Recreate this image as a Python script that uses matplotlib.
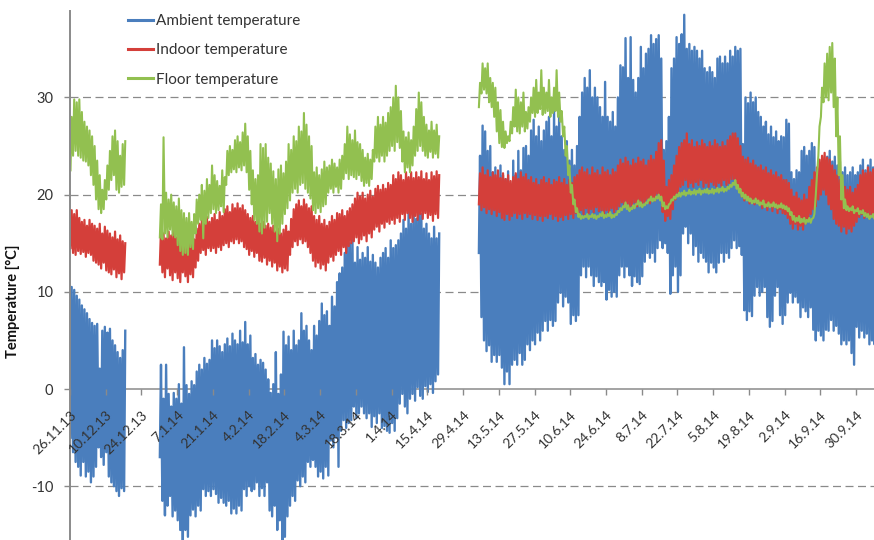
import numpy as np
import matplotlib.pyplot as plt

# days counted from 26.11.13; three logged periods with gaps in between
seg_start = [0, 35, 160]
seg_len = [22, 110, 156]

tick_days = list(range(0, 309, 14))
tick_labels = ["26.11.13", "10.12.13", "24.12.13", "7.1.14", "21.1.14", "4.2.14",
               "18.2.14", "4.3.14", "18.3.14", "1.4.14", "15.4.14", "29.4.14",
               "13.5.14", "27.5.14", "10.6.14", "24.6.14", "8.7.14", "22.7.14",
               "5.8.14", "19.8.14", "2.9.14", "16.9.14", "30.9.14"]

# daily max / min
ambient_max = [
    # 26.11 - 17.12
    10.5, 10.2, 9.6, 9.2, 8.6, 8.2, 7.8, 7.2, 6.8, 6.5,
    6.7, 2.1, 6.0, 6.4, 5.8, 6.2, 5.0, 4.5, 3.8, 3.2, 4.0, 6.0,
    # 31.12 - 19.4
    2.5, -1.0, 2.5, -0.5, -1.8, -0.4, -1.0, 0.5, -1.5, 4.3,
    0.4, -0.5, 0.8, 0.4, 1.8, 2.5, 2.0, 3.2, 2.6, 3.0,
    5.0, 4.2, 5.0, 4.4, 3.8, 4.6, 5.2, 4.4, 5.7, 5.0,
    4.6, 6.0, 4.8, 6.9, 4.6, 5.5, 3.2, 3.6, 2.5, 3.0,
    2.7, 2.0, 1.0, -0.4, 0.5, 3.8, -0.5, 1.5, 5.9, 4.5,
    5.4, 4.0, 6.0, 4.5, 5.0, 7.8, 6.0, 6.5, 5.0, 4.0,
    6.5, 5.5, 7.0, 8.8, 7.6, 8.0, 6.5, 9.5, 8.5, 11.0,
    11.9, 12.5, 14.0, 15.6, 15.0, 15.6, 13.0, 14.6, 13.3, 14.0,
    13.5, 14.6, 13.1, 13.8, 13.0, 12.5, 13.5, 14.0, 14.5, 13.5,
    15.3, 14.5, 14.8, 15.3, 16.0, 17.4, 16.5, 18.4, 17.0, 18.4,
    17.5, 19.0, 18.0, 16.5, 17.0, 16.0, 15.5, 16.7, 15.5, 16.0,
    # 5.5 - 7.10
    24.0, 27.1, 26.5, 24.5, 25.0, 22.3, 22.8, 21.8, 23.0, 22.0,
    21.6, 22.4, 21.0, 23.5, 22.0, 24.5, 22.5, 24.8, 25.0, 24.0,
    26.6, 27.7, 26.0, 27.0, 25.5, 26.6, 27.5, 28.0, 26.0, 28.5,
    27.0, 28.4, 26.0, 24.6, 25.5, 23.5, 24.6, 23.0, 25.0, 28.0,
    30.5, 32.0, 31.0, 32.8, 30.0, 31.0, 30.0, 29.0, 28.0, 31.6,
    28.0, 27.5, 28.5, 27.0, 30.0, 33.3, 33.1, 36.1, 32.0, 36.2,
    31.8, 30.5, 32.0, 35.2, 33.0, 34.5, 35.0, 36.4, 35.5, 36.0,
    36.4, 34.0, 24.6, 25.5, 28.0, 33.0, 34.0, 36.2, 35.5, 36.5,
    38.5, 35.0, 35.5, 34.8, 35.2, 34.8, 34.0, 34.8, 33.0, 32.6,
    33.1, 32.6, 32.0, 34.0, 34.2, 33.5, 34.2, 33.5, 34.8, 34.2,
    35.2, 34.8, 35.0, 25.2, 30.0, 29.4, 30.5, 29.5, 30.0, 28.5,
    28.0, 27.0, 27.5, 26.2, 27.0, 25.9, 26.5, 25.5, 26.0, 25.9,
    27.7, 27.3, 22.3, 21.6, 22.5, 22.3, 24.5, 24.9, 24.0, 24.5,
    25.3, 24.9, 21.3, 22.0, 21.8, 23.4, 23.9, 24.5, 23.4, 23.9,
    23.0, 23.4, 22.3, 22.8, 22.0, 22.3, 22.8, 22.0, 22.3, 23.0,
    23.6, 22.5, 23.0, 23.6, 22.8, 23.0]
ambient_min = [
    -5.0, -6.5, -7.5, -8.0, -8.9, -7.5, -9.0, -8.5, -9.6, -9.0,
    -8.0, -6.0, -7.0, -7.8, -6.5, -9.0, -9.6, -10.0, -10.5, -11.0, -10.2, -10.5,
    -7.0, -11.5, -13.0, -12.0, -11.0, -13.1, -12.5, -13.5, -14.5, -16.0,
    -14.5, -15.2, -13.0, -12.4, -13.1, -12.0, -12.5, -10.3, -11.0, -10.5,
    -11.0, -10.3, -10.8, -11.7, -11.2, -11.7, -12.0, -11.5, -12.8, -12.3,
    -12.8, -12.0, -12.5, -10.3, -11.0, -10.0, -10.5, -10.3, -9.6, -11.0,
    -10.2, -11.0, -9.6, -12.5, -13.1, -12.0, -14.5, -13.5, -16.0, -15.2,
    -13.1, -12.0, -11.0, -11.5, -9.4, -10.0, -9.0, -9.6, -7.5, -8.0,
    -7.3, -8.0, -9.0, -8.5, -9.2, -8.0, -8.9, -5.3, -6.0, -5.0,
    -8.0, -4.3, -3.2, -4.0, -3.5, -3.2, -1.8, -3.0, -2.5, -1.8,
    -2.5, -3.0, -2.5, -3.9, -2.8, -3.5, -2.5, -4.0, -3.8, -4.3,
    -4.5, -3.5, -4.3, -3.0, -1.5, -0.5, -1.8, -2.5, -1.0, -0.5,
    -1.2, 0.2, -0.7, -1.0, 0.3, -0.3, 0.5, -0.4, 0.8, 1.5,
    14.0, 7.4, 5.0, 3.9, 4.5, 2.8, 3.5, 2.8, 3.5, 2.2,
    0.5, 1.8, 0.5, 2.5, 3.0, 2.5, 3.7, 2.5, 3.0, 4.6,
    4.0, 5.0, 4.6, 5.8, 5.0, 6.0, 7.0, 6.0, 7.1, 6.5,
    7.0, 8.9, 9.9, 8.5, 9.5, 8.9, 6.7, 7.6, 7.0, 7.6,
    11.7, 12.6, 11.5, 12.6, 11.7, 10.6, 11.6, 11.0, 10.6, 11.0,
    9.2, 10.2, 9.5, 10.0, 9.5, 11.7, 12.6, 11.5, 12.6, 11.7,
    10.6, 11.6, 11.0, 10.8, 11.6, 13.1, 14.0, 13.5, 14.0, 13.1,
    14.5, 15.3, 14.5, 15.0, 14.0, 9.8, 11.7, 12.6, 10.0, 11.7,
    16.0, 16.7, 15.0, 16.0, 13.8, 14.7, 13.1, 14.0, 13.5, 13.1,
    12.0, 13.0, 12.5, 12.0, 13.0, 14.0, 13.1, 14.0, 13.5, 14.5,
    15.3, 14.5, 14.7, 13.8, 8.1, 7.1, 8.0, 7.5, 9.6, 10.5,
    9.6, 10.0, 10.5, 7.4, 6.4, 7.0, 9.6, 10.5, 7.6, 6.7,
    7.6, 8.9, 9.9, 8.9, 9.5, 8.9, 7.4, 8.4, 8.0, 7.4,
    8.4, 6.1, 5.0, 6.0, 5.5, 5.0, 6.1, 6.0, 7.1, 6.0,
    6.5, 5.7, 4.6, 5.0, 4.6, 5.0, 3.7, 2.5, 6.4, 5.3,
    6.0, 5.3, 5.7, 4.6, 5.0, 4.6]

indoor_max = [
    18.4, 18.0, 18.4, 17.6, 17.2, 17.4, 16.8, 17.4, 17.0, 16.8,
    16.5, 17.0, 16.0, 16.7, 16.3, 16.0, 15.6, 16.2, 15.4, 15.8, 15.2, 15.0,
    16.4, 16.0, 15.5, 16.2, 15.8, 16.4, 15.6, 16.0, 15.2, 15.8,
    15.5, 15.0, 16.0, 15.4, 16.5, 17.0, 17.4, 17.0, 17.7, 17.2,
    17.6, 18.0, 17.4, 18.2, 17.8, 18.5, 18.8, 18.2, 19.0, 18.6,
    19.1, 18.6, 18.9, 18.4, 18.0, 17.6, 17.8, 17.2, 17.4, 17.0,
    17.2, 16.8, 17.0, 16.6, 16.8, 16.2, 16.5, 16.0, 16.4, 16.8,
    16.2, 17.5, 18.5, 19.0, 19.4, 18.8, 19.5, 19.0, 18.6, 18.8,
    17.8, 17.4, 17.8, 17.0, 17.4, 16.8, 17.2, 17.8, 17.4, 18.1,
    18.0, 18.4, 17.8, 18.3, 18.6, 19.0, 19.6, 20.2, 19.8, 20.2,
    19.6, 20.0, 20.4, 19.8, 20.6, 20.9, 20.5, 21.0, 20.6, 21.2,
    21.0, 22.0, 21.6, 22.3, 22.0, 21.5, 22.3, 21.8, 22.3, 21.7,
    22.3, 21.8, 22.4, 21.6, 22.2, 21.5, 22.3, 21.9, 22.4, 22.0,
    22.2, 22.8, 22.0, 22.5, 21.8, 22.3, 22.0, 22.5, 21.7, 22.2,
    21.6, 22.0, 21.4, 21.8, 22.2, 21.6, 22.3, 21.8, 22.1, 21.5,
    21.8, 21.2, 21.6, 21.0, 21.5, 21.8, 21.2, 21.6, 21.0, 21.5,
    21.3, 21.8, 21.2, 21.6, 21.0, 21.5, 21.2, 21.8, 22.0, 22.5,
    22.8, 22.3, 22.6, 22.0, 22.8, 22.2, 22.5, 22.0, 22.8, 22.3,
    22.5, 22.0, 22.6, 22.3, 23.0, 23.6, 23.2, 23.8, 23.4, 23.0,
    23.6, 23.2, 23.8, 23.4, 23.6, 23.0, 23.5, 24.0, 23.6, 24.4,
    25.3, 25.6, 23.5, 20.8, 21.5, 22.0, 23.0, 24.0, 24.9, 25.3,
    25.6, 26.3, 25.2, 25.6, 24.9, 25.4, 25.0, 25.6, 25.2, 24.9,
    25.4, 25.0, 25.6, 25.2, 24.9, 25.4, 25.0, 25.6, 26.0, 26.3,
    26.3, 25.8, 25.0, 23.9, 23.6, 23.8, 23.2, 23.5, 23.0, 22.8,
    23.0, 22.5, 22.8, 22.2, 22.5, 22.0, 22.3, 21.8, 22.0, 21.5,
    21.5, 21.2, 20.5, 19.8, 20.2, 19.6, 19.4, 20.0, 19.5, 20.8,
    21.5, 22.3, 22.8, 23.6, 24.0, 24.3, 23.8, 23.6, 23.0, 22.5,
    22.0, 21.5, 21.0, 20.8, 20.5, 20.8, 20.2, 20.6, 21.0, 22.0,
    22.5, 22.2, 22.8, 22.3, 22.6, 22.2]
indoor_min = [
    14.5, 14.0, 13.8, 14.2, 13.9, 14.1, 13.6, 14.0, 13.8, 13.2,
    13.0, 12.8, 12.4, 13.0, 12.2, 12.0, 11.8, 12.3, 11.5, 11.9, 11.3, 12.0,
    12.8, 12.0, 11.5, 12.4, 11.7, 11.2, 12.0, 11.4, 11.0, 12.0,
    11.6, 11.0, 11.8, 11.5, 12.5, 13.2, 14.0, 14.3, 13.8, 14.5,
    14.2, 14.5, 14.0, 14.6, 14.3, 14.8, 15.0, 14.6, 15.2, 15.0,
    15.4, 15.0, 15.2, 14.6, 14.4, 13.8, 14.2, 13.6, 14.0, 13.2,
    13.1, 13.5, 12.8, 13.2, 12.6, 13.0, 12.2, 12.6, 12.0, 12.4,
    12.2, 13.8, 14.6, 15.2, 14.8, 15.4, 15.0, 15.2, 14.6, 14.0,
    13.2, 12.6, 13.0, 12.4, 12.8, 12.2, 13.0, 13.6, 13.2, 13.8,
    14.2, 13.8, 14.6, 14.0, 14.7, 15.0, 15.2, 15.6, 15.0, 15.4,
    15.8, 15.2, 16.0, 15.6, 16.4, 16.7, 16.2, 17.0, 16.6, 17.2,
    17.0, 17.4, 17.0, 17.6, 17.2, 18.0, 17.4, 18.1, 17.6, 17.2,
    17.8, 17.4, 18.0, 17.5, 18.1, 17.6, 17.9, 17.3, 18.0, 17.6,
    19.0, 18.4, 18.7, 18.1, 18.5, 18.0, 18.4, 17.8, 18.2, 17.6,
    17.4, 18.0, 17.4, 17.8, 18.1, 17.6, 18.0, 17.5, 18.1, 17.7,
    18.0, 17.5, 17.9, 17.4, 17.8, 17.3, 17.8, 17.6, 18.0, 17.5,
    17.8, 17.3, 17.7, 17.4, 17.9, 17.5, 18.0, 17.6, 18.1, 18.0,
    18.4, 18.0, 18.6, 18.1, 18.5, 18.2, 18.7, 18.3, 18.4, 18.0,
    18.4, 18.1, 18.6, 18.2, 18.5, 18.8, 19.2, 18.8, 19.1, 18.7,
    18.9, 19.2, 18.8, 19.4, 19.0, 19.2, 19.5, 19.1, 19.6, 19.4,
    20.1, 19.5, 18.2, 17.3, 17.8, 17.5, 18.5, 19.5, 20.2, 20.8,
    21.0, 21.5, 20.8, 21.2, 20.8, 21.3, 21.0, 21.5, 20.8, 21.2,
    20.8, 21.3, 21.0, 20.8, 21.2, 20.9, 21.5, 21.0, 21.2, 21.6,
    21.6, 21.0, 20.5, 19.8, 19.4, 19.6, 19.1, 19.5, 19.0, 19.2,
    19.0, 18.6, 18.9, 18.4, 18.8, 18.3, 18.7, 18.1, 18.5, 18.1,
    18.0, 17.6, 17.0, 16.5, 17.0, 16.4, 16.8, 16.4, 17.0, 17.5,
    18.0, 18.5, 18.8, 19.5, 20.0, 20.5, 20.0, 19.0, 18.5, 17.5,
    17.0, 16.8, 16.2, 16.7, 16.0, 16.5, 16.2, 16.8, 17.2, 17.7,
    18.0, 17.6, 18.1, 17.7, 18.0, 17.6]

floor_max = [
    28.0, 29.8, 29.5, 29.8, 28.5, 27.5, 27.0, 26.6, 26.0, 25.0,
    23.5, 22.0, 20.5, 21.5, 23.0, 24.5, 26.0, 26.6, 25.5, 24.0, 25.2, 25.5,
    19.0, 25.9, 20.2, 19.5, 20.0, 19.2, 18.8, 19.6, 18.4, 18.1,
    17.6, 18.1, 17.2, 18.0, 19.5, 20.0, 21.0, 20.4, 21.6, 21.0,
    23.0, 22.0, 21.4, 20.9, 22.5, 21.8, 24.5, 25.0, 24.6, 25.6,
    26.0, 25.4, 26.4, 27.3, 26.0, 24.5, 22.5, 21.6, 22.0, 25.2,
    24.8, 25.2, 23.8, 23.2, 22.4, 21.6, 22.6, 23.0, 22.2, 23.4,
    25.2, 24.6, 26.0, 25.5, 27.0, 26.5, 28.4, 27.2, 26.0, 25.0,
    22.3, 22.8, 22.0, 22.6, 23.4, 22.8, 23.0, 23.6, 23.2, 22.8,
    23.6, 24.0, 25.2, 27.0, 26.2, 25.6, 26.6, 25.4, 25.2, 24.6,
    23.8, 24.2, 23.6, 24.6, 27.0, 28.0, 27.2, 28.0, 27.4, 28.4,
    29.0, 30.0, 31.2, 30.0, 28.6, 26.5, 25.9, 26.4, 25.6, 27.0,
    28.8, 30.5, 29.5, 28.0, 27.2, 26.6, 27.5, 26.6, 27.2, 26.0,
    31.5, 33.5, 33.0, 33.5, 32.0, 31.5, 31.0, 29.5, 28.7, 27.5,
    26.5, 26.0, 27.5, 29.0, 30.8, 30.0, 29.5, 30.5, 28.5, 29.0,
    30.0, 31.0, 31.8, 30.5, 32.8, 31.0, 30.5, 31.8, 30.0, 31.0,
    32.8, 30.5, 28.6, 27.0, 25.0, 23.0, 21.0, 19.5, 18.6, 18.0,
    17.8, 17.8, 18.0, 17.8, 18.0, 17.9, 17.8, 18.0, 18.2, 17.9,
    18.0, 18.2, 17.9, 18.0, 18.3, 18.6, 18.8, 19.2, 18.9, 18.6,
    18.9, 19.0, 19.4, 19.2, 19.0, 19.2, 19.5, 19.8, 19.6, 19.8,
    20.0, 19.8, 19.2, 18.8, 19.0, 19.5, 19.8, 20.0, 20.2, 20.2,
    20.4, 20.2, 20.5, 20.3, 20.5, 20.4, 20.6, 20.4, 20.5, 20.6,
    20.4, 20.6, 20.5, 20.7, 20.6, 20.8, 20.6, 20.8, 21.0, 21.2,
    21.5, 21.0, 20.6, 20.2, 20.0, 19.8, 19.6, 19.4, 19.6, 19.4,
    19.2, 19.4, 19.0, 19.2, 19.0, 19.2, 19.0, 18.9, 19.1, 18.9,
    18.8, 18.6, 18.2, 17.8, 17.6, 17.8, 17.5, 17.6, 17.4, 17.6,
    17.5, 18.0, 22.0, 27.0, 31.0, 33.5, 34.5, 35.2, 35.6, 34.0,
    30.0, 26.0, 22.0, 19.5, 18.8, 18.6, 18.8, 18.4, 18.6, 18.3,
    18.4, 18.1, 18.0, 17.8, 18.0, 17.8]
floor_min = [
    22.5, 24.0, 24.5, 24.0, 23.8, 23.5, 23.4, 23.0, 22.0, 21.0,
    19.5, 18.5, 18.1, 18.5, 19.5, 20.5, 21.5, 22.0, 20.5, 20.2, 20.8, 21.0,
    15.6, 15.4, 16.0, 15.6, 16.4, 15.8, 15.6, 14.8, 14.2, 13.8,
    14.0, 13.8, 14.6, 14.4, 16.0, 17.0, 17.4, 15.5, 17.0, 17.6,
    18.1, 18.5, 18.1, 18.4, 18.8, 18.2, 21.0, 22.0, 22.3, 22.6,
    22.3, 22.8, 22.5, 23.0, 22.3, 20.5, 19.0, 17.4, 17.0, 16.2,
    16.0, 16.6, 17.2, 18.1, 17.0, 16.2, 15.2, 16.0, 17.0, 18.0,
    18.6, 19.4, 20.2, 20.6, 20.2, 21.0, 21.2, 20.6, 20.2, 19.6,
    18.4, 18.1, 18.6, 18.2, 18.8, 19.0, 20.2, 20.6, 20.2, 20.8,
    20.2, 20.6, 21.6, 22.2, 21.6, 22.0, 21.8, 21.6, 22.0, 21.4,
    20.9, 21.2, 20.9, 21.6, 23.4, 23.8, 23.4, 24.0, 23.4, 24.0,
    24.5, 25.0, 24.5, 25.4, 24.8, 23.4, 22.3, 22.8, 22.3, 23.0,
    24.0, 24.5, 25.0, 24.5, 24.0, 23.8, 24.4, 23.8, 24.2, 23.8,
    29.0, 30.4, 30.8, 30.4, 29.5, 29.0, 28.0, 26.5, 25.3, 24.9,
    24.8, 25.3, 25.5, 26.3, 27.0, 26.5, 26.3, 27.0, 26.5, 26.8,
    27.5, 28.4, 28.0, 28.4, 28.8, 28.2, 28.4, 28.6, 28.0, 28.4,
    28.6, 28.0, 27.5, 26.0, 24.0, 22.0, 20.2, 19.0, 18.2, 17.7,
    17.5, 17.6, 17.7, 17.5, 17.7, 17.6, 17.5, 17.7, 17.8, 17.6,
    17.7, 17.8, 17.6, 17.7, 17.9, 18.2, 18.4, 18.7, 18.5, 18.3,
    18.5, 18.6, 19.0, 18.8, 18.7, 18.9, 19.1, 19.4, 19.3, 19.4,
    19.6, 19.4, 18.8, 18.5, 18.6, 19.1, 19.4, 19.6, 19.8, 19.8,
    20.0, 19.9, 20.1, 20.0, 20.1, 20.0, 20.2, 20.0, 20.2, 20.2,
    20.1, 20.2, 20.1, 20.3, 20.2, 20.4, 20.3, 20.4, 20.6, 20.8,
    21.0, 20.6, 20.2, 19.8, 19.6, 19.4, 19.3, 19.1, 19.2, 19.1,
    18.9, 19.0, 18.7, 18.8, 18.7, 18.8, 18.7, 18.6, 18.7, 18.6,
    18.5, 18.3, 17.9, 17.4, 17.2, 17.3, 17.1, 17.2, 17.0, 17.2,
    17.1, 17.6, 20.0, 24.0, 28.0, 29.5, 30.0, 29.7, 30.5, 29.0,
    26.0, 22.0, 19.5, 18.6, 18.4, 18.3, 18.4, 18.1, 18.3, 18.0,
    18.1, 17.8, 17.7, 17.5, 17.7, 17.5]


def zigzag(lo, hi):
    # one low (early morning) and one high (afternoon) point per day
    t, v = [], []
    k = 0
    for s, n in zip(seg_start, seg_len):
        for i in range(n):
            t += [s + i + 0.2, s + i + 0.65]
            v += [lo[k + i], hi[k + i]]
        t.append(np.nan)
        v.append(np.nan)
        k += n
    return t, v


plt.rcParams['font.family'] = ['Lato', 'DejaVu Sans']

fig = plt.figure(figsize=(8.74, 5.4), dpi=100)
ax = fig.add_axes([70 / 874, 0, 804 / 874, 529 / 540])

grey = '#8a8a8a'
for y in [-10, 10, 20, 30]:
    ax.axhline(y, color=grey, lw=0.9, ls=(0, (6.4, 3.6)), zorder=0)

t, v = zigzag(ambient_min, ambient_max)
ax.plot(t, v, color='#4a7ebd', lw=1.7, label='Ambient temperature')
t, v = zigzag(indoor_min, indoor_max)
ax.plot(t, v, color='#d43f3a', lw=1.6, label='Indoor temperature')
t, v = zigzag(floor_min, floor_max)
ax.plot(t, v, color='#92c050', lw=1.5, label='Floor temperature')

ax.set_xlim(0, 315)
ax.set_ylim(-15.53, 38.89)

for s in ['top', 'right']:
    ax.spines[s].set_visible(False)
ax.spines['left'].set_color(grey)
ax.spines['left'].set_linewidth(1.4)
ax.spines['bottom'].set_color(grey)
ax.spines['bottom'].set_linewidth(1.1)
ax.spines['bottom'].set_position(('data', 0))
ax.spines['bottom'].set_zorder(1)

ax.set_yticks([-10, 0, 10, 20, 30])
ax.set_yticklabels(['-10', '0', '10', '20', '30'])
ax.set_xticks(tick_days)
ax.set_xticklabels(tick_labels)
ax.tick_params(axis='y', length=4, width=1, color=grey, labelsize=10.5,
               labelcolor='#333333', pad=8)
ax.tick_params(axis='x', length=4, width=1, color=grey, labelsize=10,
               labelcolor='#333333', pad=10)
plt.setp(ax.get_xticklabels(), rotation=45, ha='right', va='top',
         rotation_mode='anchor')
ax.xaxis.set_zorder(3)

ax.set_ylabel('Temperature [°C]', fontsize=10.5, fontweight='bold', color='#111111')
ax.yaxis.set_label_coords(-0.062, 0.452)

leg = ax.legend(loc='upper left', bbox_to_anchor=(128 / 874, 1 - 14 / 540),
                bbox_transform=fig.transFigure, frameon=False, fontsize=11,
                handlelength=1.65, handletextpad=0.2, labelspacing=1.0,
                borderpad=0, borderaxespad=0)
for line in leg.get_lines():
    line.set_linewidth(2.2)
for txt in leg.get_texts():
    txt.set_color('#333333')

fig.savefig('out.png', dpi=100)
